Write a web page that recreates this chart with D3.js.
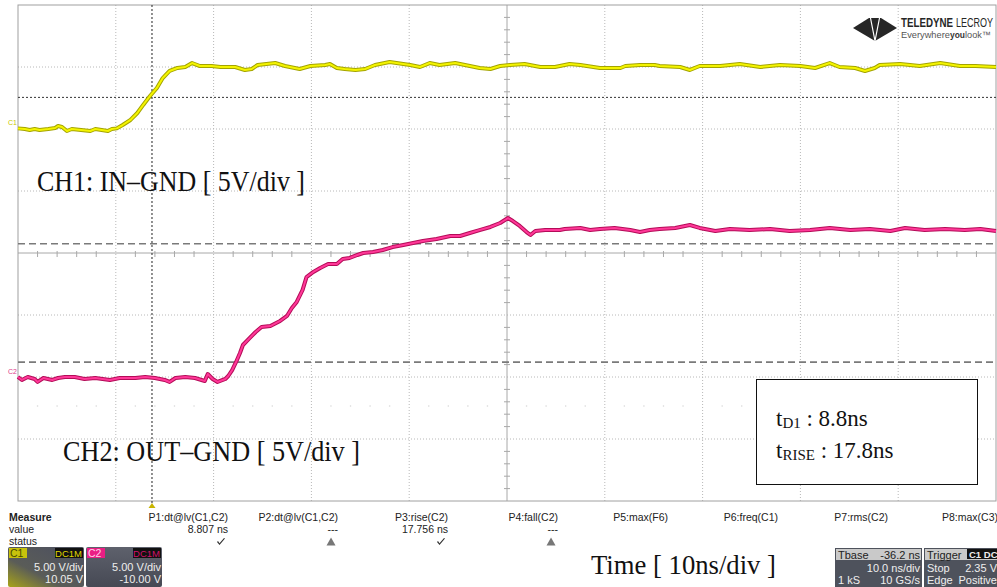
<!DOCTYPE html>
<html>
<head>
<meta charset="utf-8"/>
<title>CH1 / CH2 switching waveform</title>
<style>
  body { margin: 0; background: #fff; }
  svg { display: block; }
  .serif { font-family: "Liberation Serif", "Times New Roman", serif; fill: #111; }
  .sans { font-family: "Liberation Sans", Arial, sans-serif; }
</style>
</head>
<body>
<svg id="chart" width="997" height="587"></svg>
<script src="https://cdn.jsdelivr.net/npm/d3@7"></script>
<script>

// time in ns (0 = trigger), volts as measured on each channel
var c1Time = [-13.7,-13.0,-12.5,-12.0,-11.5,-10.6,-9.9,-9.6,-9.2,-8.7,-8.2,-6.3,-5.8,-4.5,-4.1,-3.6,-3.0,-2.2,-1.5,-0.9,
  -0.2,0.5,1.1,1.8,2.6,3.4,4.1,4.9,6.1,7.0,8.5,9.5,10.2,10.8,12.6,13.6,15.1,16.2,17.7,18.2,
  18.9,19.7,20.8,21.8,22.8,24.3,26.4,27.4,28.4,29.4,31.0,32.5,33.5,34.6,35.6,36.6,38.1,39.7,41.2,42.7,
  43.8,45.8,47.9,48.4,49.9,51.4,51.9,54.0,55.0,56.0,58.1,60.1,62.2,64.2,66.3,67.8,69.3,70.3,71.9,72.9,
  73.9,74.4,76.5,78.5,80.6,82.6,84.2,86.3];
var c1Volt = [0.0,-0.05,-0.13,-0.05,-0.13,-0.05,0.03,0.19,0.11,-0.21,-0.05,-0.21,-0.05,-0.21,-0.05,0.0,0.27,0.68,1.24,1.89,
  2.61,3.26,4.06,4.63,4.87,4.95,5.27,5.03,5.03,4.95,4.95,4.71,4.79,5.11,5.27,5.03,4.79,5.03,5.11,5.19,
  4.87,4.79,4.71,4.79,5.11,5.35,5.11,4.95,5.27,5.11,5.27,5.03,4.87,4.79,5.03,5.11,5.19,4.95,4.95,5.19,
  5.11,4.87,4.87,5.03,5.11,5.11,5.03,4.95,4.71,5.03,5.03,5.19,4.95,5.11,5.03,4.87,5.27,4.95,4.87,4.63,
  4.87,5.11,5.19,5.03,5.27,5.03,5.03,4.95];

var c2Time = [-13.7,-13.3,-12.7,-12.0,-11.7,-11.1,-10.2,-9.6,-8.9,-7.9,-6.9,-5.8,-4.3,-3.3,-1.7,-0.7,0.3,1.3,1.8,2.4,
  3.4,4.4,5.4,5.7,6.2,6.7,7.5,7.8,8.2,8.6,9.0,9.3,10.0,10.6,11.2,12.1,13.1,13.8,14.3,14.8,
  15.4,15.8,16.5,17.2,18.0,18.9,19.5,20.2,21.0,21.6,22.6,23.6,24.6,25.7,26.7,27.7,29.1,30.5,31.5,32.5,
  33.5,34.6,35.6,36.4,36.9,37.6,38.3,38.7,39.2,40.2,41.7,42.2,43.8,44.8,45.8,47.3,48.9,49.9,50.9,51.9,
  53.5,55.0,56.0,57.6,59.1,61.1,63.2,65.2,67.3,69.3,71.4,73.4,75.5,77.0,79.0,81.1,83.1,84.7,86.3];
var c2Volt = [0.0,-0.24,0.0,-0.16,-0.40,-0.08,-0.24,-0.08,0.0,0.0,-0.16,-0.08,-0.24,-0.08,-0.08,0.0,-0.08,-0.24,-0.40,-0.08,
  0.0,-0.08,-0.32,0.24,-0.16,-0.40,-0.16,0.08,0.56,1.21,1.94,2.58,3.15,3.63,4.03,4.11,4.52,4.92,5.56,6.05,
  7.02,8.06,8.47,8.79,9.11,9.11,9.52,9.60,9.84,10.00,10.08,10.24,10.48,10.65,10.81,10.97,11.13,11.37,11.37,11.61,
  11.85,12.10,12.42,12.82,12.58,12.18,11.69,11.45,11.77,11.85,11.85,11.94,12.02,11.85,11.94,12.02,11.85,11.69,11.85,11.94,
  12.02,12.26,12.02,11.77,11.94,11.85,11.94,11.77,11.85,12.02,11.85,11.94,11.77,12.02,11.85,11.94,11.85,11.94,11.77];

// channel offsets (V) and cursor levels
var c1Offset = 10.05, c2Offset = -10.00;
var c1Level = 2.5;          // 50 % of CH1
var c2Levels = [1.2, 10.75]; // 10 % / 90 % of CH2

// measurement panel
var measNames  = ["P1:dt@lv(C1,C2)", "P2:dt@lv(C1,C2)", "P3:rise(C2)", "P4:fall(C2)", "P5:max(F6)", "P6:freq(C1)", "P7:rms(C2)", "P8:max(C3)"];
var measValues = ["8.807 ns", "---", "17.756 ns", "---", "", "", "", ""];
var measStatus = ["ok", "warn", "ok", "warn", "", "", "", ""];

var tStart = -13.7;

var svg = d3.select("#chart");

var xDiv = d3.scaleLinear().domain([0, 10]).range([18, 996]);
var yDiv = d3.scaleLinear().domain([-4, 4]).range([501, 5]);
var x = d3.scaleLinear().domain([tStart, tStart + 100]).range([18, 996]);
var yScreen = d3.scaleLinear().domain([-20, 20]).range([501, 5]);

var grid = svg.append("g");

// dotted graticule
grid.selectAll(".vgrid").data(d3.range(1, 10).filter(function(d){ return d != 5; }))
  .enter().append("line")
  .attr("x1", xDiv).attr("x2", xDiv)
  .attr("y1", yDiv(4)).attr("y2", yDiv(-4))
  .attr("stroke", "#b8b8b8").attr("stroke-dasharray", "1,2");
grid.selectAll(".hgrid").data(d3.range(-3, 4).filter(function(d){ return d != 0; }))
  .enter().append("line")
  .attr("x1", xDiv(0)).attr("x2", xDiv(10))
  .attr("y1", yDiv).attr("y2", yDiv)
  .attr("stroke", "#b8b8b8").attr("stroke-dasharray", "1,2");

// faint ghost ticks
grid.selectAll(".ghost").data(d3.range(0, 50).filter(function(d){ return d % 5 != 0; }))
  .enter().append("circle")
  .attr("cx", function(d){ return xDiv(d / 5); })
  .attr("cy", 406).attr("r", 0.8).attr("fill", "#d8d8d8");

// centre axes with minor ticks
grid.append("line").attr("x1", xDiv(0)).attr("x2", xDiv(10)).attr("y1", yDiv(0)).attr("y2", yDiv(0))
  .attr("stroke", "#a8a8a8");
grid.append("line").attr("x1", xDiv(5)).attr("x2", xDiv(5)).attr("y1", yDiv(4)).attr("y2", yDiv(-4))
  .attr("stroke", "#a8a8a8");
grid.selectAll(".xtick").data(d3.range(1, 50).filter(function(d){ return d % 5 != 0; }))
  .enter().append("line")
  .attr("x1", function(d){ return xDiv(d / 5); }).attr("x2", function(d){ return xDiv(d / 5); })
  .attr("y1", yDiv(0) - 2).attr("y2", yDiv(0) + 4)
  .attr("stroke", "#a8a8a8");
grid.selectAll(".ytick").data(d3.range(-19, 20).filter(function(d){ return d % 5 != 0; }))
  .enter().append("line")
  .attr("x1", xDiv(5) - 3).attr("x2", xDiv(5) + 3)
  .attr("y1", function(d){ return yDiv(d / 5); }).attr("y2", function(d){ return yDiv(d / 5); })
  .attr("stroke", "#a8a8a8");

// frame
grid.append("rect").attr("x", xDiv(0)).attr("y", yDiv(4))
  .attr("width", xDiv(10) - xDiv(0)).attr("height", yDiv(-4) - yDiv(4))
  .attr("fill", "none").attr("stroke", "#a0a0a0");

// cursors
svg.append("line").attr("x1", x(0)).attr("x2", x(0)).attr("y1", yDiv(4)).attr("y2", yDiv(-4) + 2)
  .attr("stroke", "#222").attr("stroke-dasharray", "2,2");
svg.append("line").attr("x1", xDiv(0)).attr("x2", xDiv(10))
  .attr("y1", yScreen(c1Level + c1Offset)).attr("y2", yScreen(c1Level + c1Offset))
  .attr("stroke", "#333").attr("stroke-dasharray", "2,2");
svg.selectAll(".lvl").data(c2Levels).enter().append("line")
  .attr("x1", xDiv(0)).attr("x2", xDiv(10))
  .attr("y1", function(d){ return yScreen(d + c2Offset); })
  .attr("y2", function(d){ return yScreen(d + c2Offset); })
  .attr("stroke", "#7a7a7a").attr("stroke-width", 1.6).attr("stroke-dasharray", "7,4");

// traces
function trace(times, volts, offset, edge, core){
  var pts = times.map(function(t, i){ return [x(t), yScreen(volts[i] + offset)]; });
  var line = d3.line();
  svg.append("path").attr("d", line(pts)).attr("fill", "none")
    .attr("stroke", edge).attr("stroke-width", 4).attr("stroke-linejoin", "round");
  svg.append("path").attr("d", line(pts)).attr("fill", "none")
    .attr("stroke", core).attr("stroke-width", 2).attr("stroke-linejoin", "round");
}
trace(c1Time, c1Volt, c1Offset, "#a4a400", "#f4f400");
trace(c2Time, c2Volt, c2Offset, "#b40c58", "#ff3898");

// channel markers
svg.append("text").attr("class", "sans").attr("x", 8).attr("y", yScreen(c1Offset) - 3)
  .attr("font-size", 7).attr("fill", "#c8c800").text("C1");
svg.append("text").attr("class", "sans").attr("x", 8).attr("y", yScreen(c2Offset) - 3)
  .attr("font-size", 7).attr("fill", "#e0408a").text("C2");

// annotations
svg.append("text").attr("class", "serif").attr("x", 37).attr("y", 191)
  .attr("font-size", 29).attr("textLength", 268).attr("lengthAdjust", "spacingAndGlyphs")
  .text("CH1: IN\u2013GND [ 5V/div ]");
svg.append("text").attr("class", "serif").attr("x", 63).attr("y", 461)
  .attr("font-size", 29).attr("textLength", 297).attr("lengthAdjust", "spacingAndGlyphs")
  .text("CH2: OUT\u2013GND [ 5V/div ]");
svg.append("text").attr("class", "serif").attr("x", 591).attr("y", 574)
  .attr("font-size", 28).attr("textLength", 185).attr("lengthAdjust", "spacingAndGlyphs")
  .text("Time [ 10ns/div ]");

// result box
svg.append("rect").attr("x", 756.5).attr("y", 379.5).attr("width", 221).attr("height", 105)
  .attr("fill", "#fff").attr("stroke", "#111");
var l1 = svg.append("text").attr("class", "serif").attr("x", 776).attr("y", 426).attr("font-size", 23);
l1.append("tspan").text("t");
l1.append("tspan").attr("font-size", 15).attr("dy", 2).text("D1");
l1.append("tspan").attr("dy", -2).text(" : 8.8ns");
var l2 = svg.append("text").attr("class", "serif").attr("x", 776).attr("y", 458).attr("font-size", 23);
l2.append("tspan").text("t");
l2.append("tspan").attr("font-size", 15).attr("dy", 2).text("RISE");
l2.append("tspan").attr("dy", -2).text(" : 17.8ns");

// logo
var logo = svg.append("g");
logo.append("path").attr("d", "M853,28 L869,18 L881,18 L897,28 L875,41 Z").attr("fill", "#262626");
logo.append("path").attr("d", "M875,41 L870.5,18 M875,41 L879.5,18").attr("stroke", "#fff").attr("stroke-width", 1.2);
var logoWords = [
  {t: "TELEDYNE", x: 901, y: 27, w: 52, size: 12, bold: true, c: "#262626"},
  {t: "LECROY", x: 956, y: 27, w: 37, size: 12, bold: false, c: "#262626"},
  {t: "Everywhere", x: 901, y: 38, w: 49, size: 9, bold: false, c: "#555"},
  {t: "you", x: 950, y: 38, w: 15, size: 9, bold: true, c: "#333"},
  {t: "look\u2122", x: 965, y: 38, w: 26, size: 9, bold: false, c: "#555"}
];
logo.selectAll(".lw").data(logoWords).enter().append("g")
  .attr("transform", function(d){ return "translate(" + d.x + "," + d.y + ")"; })
  .append("text").attr("class", "sans")
  .attr("font-size", function(d){ return d.size; })
  .attr("font-weight", function(d){ return d.bold ? "bold" : "normal"; })
  .attr("fill", function(d){ return d.c; }).text(function(d){ return d.t; })
  .each(function(d){
    // squeeze each word to its measured width
    var natural = this.getComputedTextLength();
    d3.select(this.parentNode).attr("transform",
      "translate(" + d.x + "," + d.y + ") scale(" + (d.w / natural) + ",1)");
  });

// trigger marker
svg.append("path").attr("d", "M" + x(0) + ",503 l-3.5,5 l7,0 Z").attr("fill", "#c8b400");

// measurement table
var colRight = d3.scaleLinear().domain([0, 7]).range([228, 998]);
var panel = svg.append("g").attr("class", "sans").attr("font-size", 10.5).attr("fill", "#222");
panel.append("text").attr("x", 9).attr("y", 521).attr("font-weight", "bold").text("Measure");
panel.append("text").attr("x", 9).attr("y", 533).text("value");
panel.append("text").attr("x", 9).attr("y", 545).text("status");
panel.selectAll(".mname").data(measNames).enter().append("text")
  .attr("x", function(d, i){ return colRight(i); }).attr("y", 521)
  .attr("text-anchor", "end").text(function(d){ return d; });
panel.selectAll(".mval").data(measValues).enter().append("text")
  .attr("x", function(d, i){ return colRight(i); }).attr("y", 533)
  .attr("text-anchor", "end").text(function(d){ return d; });
panel.selectAll(".mstat").data(measStatus).enter().append("path")
  .attr("transform", function(d, i){ return "translate(" + (colRight(i) - 7) + ",542)"; })
  .attr("d", function(d){
    if(d == "ok") return "M-4,0 L-1.5,3 L4,-3.5 L3,-4 L-1.5,1.2 L-3,-1 Z";
    if(d == "warn") return "M0,-4.5 L4.5,3.5 L-4.5,3.5 Z";
    return "";
  })
  .attr("fill", function(d){ return d == "ok" ? "#333" : "#777"; });

// channel descriptor boxes
var grad = svg.append("defs");
var g1 = grad.append("linearGradient").attr("id", "c1g").attr("x1", 0).attr("y1", 1).attr("x2", 0.8).attr("y2", 0.2);
g1.append("stop").attr("offset", 0).attr("stop-color", "#a8a418");
g1.append("stop").attr("offset", 0.45).attr("stop-color", "#5a5c58");
g1.append("stop").attr("offset", 1).attr("stop-color", "#50535e");
var g2 = grad.append("linearGradient").attr("id", "c2g").attr("x1", 0).attr("y1", 0).attr("x2", 0).attr("y2", 1);
g2.append("stop").attr("offset", 0).attr("stop-color", "#5e616c");
g2.append("stop").attr("offset", 1).attr("stop-color", "#464954");

var chans = [
  {x: 8, fill: "url(#c1g)", tag: "C1", tagBg: "#c8c20c", tagFg: "#4a4a00", cpl: "#e0d800", vdiv: "5.00 V/div", off: "10.05 V"},
  {x: 86, fill: "url(#c2g)", tag: "C2", tagBg: "#ea1f84", tagFg: "#ffd0e8", cpl: "#d0106a", vdiv: "5.00 V/div", off: "-10.00 V"}
];
var cb = svg.selectAll(".chan").data(chans).enter().append("g")
  .attr("class", "sans").attr("transform", function(d){ return "translate(" + d.x + ",547)"; });
cb.append("rect").attr("width", 76).attr("height", 40).attr("rx", 2).attr("fill", function(d){ return d.fill; });
cb.append("rect").attr("x", 1).attr("y", 1).attr("width", 18).attr("height", 10).attr("fill", function(d){ return d.tagBg; });
cb.append("text").attr("x", 2).attr("y", 10).attr("font-size", 10.5).attr("fill", function(d){ return d.tagFg; })
  .text(function(d){ return d.tag; });
cb.append("rect").attr("x", 47).attr("y", 1).attr("width", 28).attr("height", 10).attr("fill", "#111");
cb.append("text").attr("x", 74).attr("y", 10).attr("text-anchor", "end").attr("font-size", 9.5)
  .attr("fill", function(d){ return d.cpl; }).text("DC1M");
cb.append("text").attr("x", 75).attr("y", 24).attr("text-anchor", "end").attr("font-size", 11)
  .attr("fill", "#eee").text(function(d){ return d.vdiv; });
cb.append("text").attr("x", 75).attr("y", 36).attr("text-anchor", "end").attr("font-size", 11)
  .attr("fill", "#eee").text(function(d){ return d.off; });

// timebase and trigger boxes
var infos = [
  {x: 835, w: 87, head: ["Tbase", "-36.2 ns"], rows: [["", "10.0 ns/div"], ["1 kS", "10 GS/s"]]},
  {x: 924, w: 75, head: ["Trigger", ""], rows: [["Stop", "2.35 V"], ["Edge", "Positive"]]}
];
var ib = svg.selectAll(".info").data(infos).enter().append("g")
  .attr("class", "sans").attr("font-size", 11).attr("transform", function(d){ return "translate(" + d.x + ",548)"; });
ib.append("rect").attr("width", function(d){ return d.w; }).attr("height", 39).attr("fill", "#4e525c");
ib.append("rect").attr("x", 1).attr("y", 1).attr("width", function(d){ return d.w - 2; }).attr("height", 11).attr("fill", "#c9c9c9");
ib.append("text").attr("x", 3).attr("y", 10.5).attr("fill", "#222").text(function(d){ return d.head[0]; });
ib.append("text").attr("x", function(d){ return d.w - 2; }).attr("y", 10.5).attr("text-anchor", "end")
  .attr("fill", "#222").text(function(d){ return d.head[1]; });
ib.each(function(d){
  var g = d3.select(this);
  d.rows.forEach(function(r, i){
    g.append("text").attr("x", 3).attr("y", 24 + i * 12).attr("fill", "#eee").text(r[0]);
    g.append("text").attr("x", d.w - 2).attr("y", 24 + i * 12).attr("text-anchor", "end").attr("fill", "#eee").text(r[1]);
  });
});
var trg = svg.append("g").attr("class", "sans");
trg.append("rect").attr("x", 967).attr("y", 549).attr("width", 30).attr("height", 10).attr("fill", "#111");
trg.append("text").attr("x", 969).attr("y", 558).attr("font-size", 9.5).attr("font-weight", "bold")
  .attr("fill", "#eee").text("C1 DC");

</script>
</body>
</html>
